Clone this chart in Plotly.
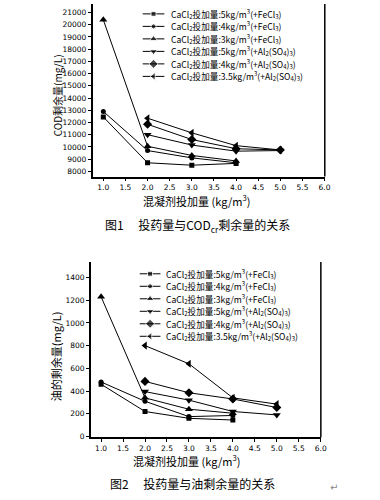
import plotly.graph_objects as go

W, H = 380, 500

# ---------------- data ----------------
x_fe = [1.0, 2.0, 3.0, 4.0]
x_al = [2.0, 3.0, 4.0, 5.0]

series_names = [
    "CaCl<sub>2</sub>投加量:5kg/m<sup>3</sup>(+FeCl<sub>3</sub>)",
    "CaCl<sub>2</sub>投加量:4kg/m<sup>3</sup>(+FeCl<sub>3</sub>)",
    "CaCl<sub>2</sub>投加量:3kg/m<sup>3</sup>(+FeCl<sub>3</sub>)",
    "CaCl<sub>2</sub>投加量:5kg/m<sup>3</sup>(+Al<sub>2</sub>(SO<sub>4</sub>)<sub>3</sub>)",
    "CaCl<sub>2</sub>投加量:4kg/m<sup>3</sup>(+Al<sub>2</sub>(SO<sub>4</sub>)<sub>3</sub>)",
    "CaCl<sub>2</sub>投加量:3.5kg/m<sup>3</sup>(+Al<sub>2</sub>(SO<sub>4</sub>)<sub>3</sub>)",
]
symbols = ["square", "circle", "triangle-up", "triangle-down", "diamond", "triangle-left"]

cod_fe_5 = [12450, 8700, 8500, 8650]
cod_fe_4 = [12900, 9700, 9100, 8700]
cod_fe_3 = [20400, 10050, 9300, 8850]
cod_al_5 = [11000, 10150, 9650, 9700]
cod_al_4 = [11850, 10600, 9850, 9750]
cod_al_35 = [12350, 11150, 10100, 9750]

oil_fe_5 = [460, 220, 160, 145]
oil_fe_4 = [480, 310, 175, 185]
oil_fe_3 = [1230, 340, 240, 205]
oil_al_5 = [395, 320, 220, 190]
oil_al_4 = [485, 385, 330, 255]
oil_al_35 = [800, 640, 340, 285]

x_ticks = [1.0, 1.5, 2.0, 2.5, 3.0, 3.5, 4.0, 4.5, 5.0, 5.5, 6.0]
cod_ticks = list(range(8000, 21001, 1000))
oil_ticks = list(range(0, 1401, 200))

cod_series = [(x_fe, cod_fe_5), (x_fe, cod_fe_4), (x_fe, cod_fe_3),
              (x_al, cod_al_5), (x_al, cod_al_4), (x_al, cod_al_35)]
oil_series = [(x_fe, oil_fe_5), (x_fe, oil_fe_4), (x_fe, oil_fe_3),
              (x_al, oil_al_5), (x_al, oil_al_4), (x_al, oil_al_35)]

# ---------------- styling ----------------
CJK = "Noto Sans CJK SC"
TICKFONT = dict(family="DejaVu Sans", size=7.5, color="black")
msizes = {"square": 5, "circle": 5, "triangle-up": 7, "triangle-down": 7,
          "diamond": 7, "triangle-left": 7}

fig = go.Figure()

for (xs, ys), sym, name in zip(cod_series, symbols, series_names):
    fig.add_trace(go.Scatter(x=xs, y=ys, mode="lines+markers", name=name,
                             line=dict(color="black", width=1),
                             marker=dict(symbol=sym, size=msizes[sym], color="black"),
                             xaxis="x", yaxis="y", showlegend=False))
for (xs, ys), sym, name in zip(oil_series, symbols, series_names):
    fig.add_trace(go.Scatter(x=xs, y=ys, mode="lines+markers", name=name,
                             line=dict(color="black", width=1),
                             marker=dict(symbol=sym, size=msizes[sym], color="black"),
                             xaxis="x2", yaxis="y2", showlegend=False))

# manual compact legends (keys on a pixel-space overlay axis)
legends = [
    dict(x0=145, x1=167, tx=172, y0=14, dy=12.6),
    dict(x0=142, x1=163, tx=167, y0=276, dy=12.6),
]
annotations = []
for lg in legends:
    for i, (sym, name) in enumerate(zip(symbols, series_names)):
        ry = lg["y0"] + i * lg["dy"]
        xm = (lg["x0"] + lg["x1"]) / 2
        fig.add_trace(go.Scatter(
            x=[lg["x0"], xm, lg["x1"]], y=[ry, ry, ry], mode="lines+markers",
            line=dict(color="black", width=1),
            marker=dict(symbol=sym, size=[0, msizes[sym], 0], color="black"),
            xaxis="x3", yaxis="y3", showlegend=False, hoverinfo="skip"))
        annotations.append(dict(
            x=lg["tx"] / W, y=1 - ry / H, xref="paper", yref="paper",
            text=name, showarrow=False, xanchor="left", yanchor="middle",
            font=dict(family=CJK, size=8.6, color="black")))

# titles / captions
annotations += [
    dict(x=58 / W, y=1 - 96 / H, text="COD剩余量(mg/L)", textangle=-90,
         font=dict(family=CJK, size=10, color="black")),
    dict(x=57 / W, y=1 - 359 / H, text="油的剩余量(mg/L)", textangle=-90,
         font=dict(family=CJK, size=11, color="black")),
    dict(x=200 / W, y=1 - 202 / H, text="混凝剂投加量 (kg/m<sup>3</sup>)",
         font=dict(family=CJK, size=11, color="black")),
    dict(x=189 / W, y=1 - 464 / H, text="混凝剂投加量 (kg/m<sup>3</sup>)",
         font=dict(family=CJK, size=11, color="black")),
    dict(x=201 / W, y=1 - 227 / H, text="图1\u3000 投药量与COD<sub>cr</sub>剩余量的关系",
         font=dict(family=CJK, size=12, color="black")),
    dict(x=196 / W, y=1 - 487 / H, text="图2\u3000 投药量与油剩余量的关系",
         font=dict(family=CJK, size=12, color="black")),
    dict(x=339 / W, y=1 - 491 / H, text="↵",
         font=dict(family="DejaVu Sans", size=10, color="#888888")),
]
for a in annotations:
    a.setdefault("xref", "paper")
    a.setdefault("yref", "paper")
    a.setdefault("showarrow", False)
    a.setdefault("xanchor", "center")
    a.setdefault("yanchor", "middle")

common_x = dict(showline=True, linecolor="black", linewidth=1.5, ticks="outside",
                ticklen=3, tickcolor="black", tickwidth=1, showgrid=False,
                zeroline=False, tickvals=x_ticks, tickformat=".1f",
                tickfont=TICKFONT, fixedrange=True)
common_y = dict(showline=True, linecolor="black", linewidth=1.5, ticks="outside",
                ticklen=3, tickcolor="black", tickwidth=1, showgrid=False,
                zeroline=False, tickfont=TICKFONT, tickformat="d", fixedrange=True)

fig.update_layout(
    width=W, height=H, margin=dict(l=0, r=0, t=0, b=0),
    paper_bgcolor="white", plot_bgcolor="rgba(0,0,0,0)", showlegend=False,
    xaxis=dict(domain=[94 / W, 330 / W], range=[0.756, 6.005], anchor="y", **common_x),
    yaxis=dict(domain=[1 - 178 / H, 1 - 4 / H], range=[7570, 21700], anchor="x",
               tickvals=cod_ticks, **common_y),
    xaxis2=dict(domain=[92.3 / W, 326 / W], range=[0.767, 6.003], anchor="y2", **common_x),
    yaxis2=dict(domain=[1 - 440.7 / H, 1 - 264 / H], range=[-6, 1537], anchor="x2",
                tickvals=oil_ticks, **common_y),
    xaxis3=dict(domain=[0, 1], range=[0, W], anchor="y3", visible=False, fixedrange=True),
    yaxis3=dict(domain=[0, 1], range=[H, 0], anchor="x3", visible=False, fixedrange=True),
    annotations=annotations,
    shapes=[
        dict(type="line", xref="x domain", yref="y domain", x0=1, x1=1, y0=0, y1=1,
             line=dict(color="black", width=1.5)),
        dict(type="line", xref="x2 domain", yref="y2 domain", x0=1, x1=1, y0=0, y1=1,
             line=dict(color="black", width=1.5)),
    ],
)

fig.write_html("out.html", config={"displayModeBar": False},
               post_script="document.body.style.margin='0';document.body.style.overflow='hidden';")
